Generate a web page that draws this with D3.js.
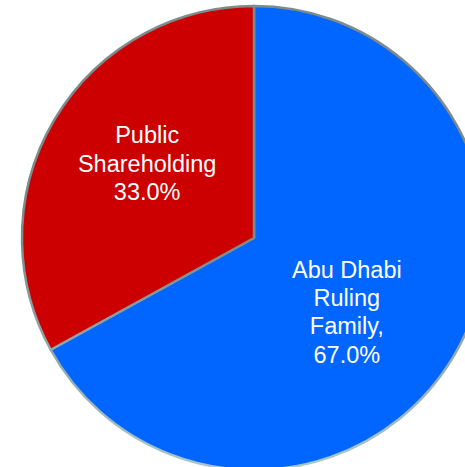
<!DOCTYPE html>
<html>
<head>
<meta charset="utf-8">
<script src="https://cdn.jsdelivr.net/npm/d3@7"></script>
<style>
  html, body { margin: 0; padding: 0; background: #fff; overflow: hidden; }
  svg { display: block; }
</style>
</head>
<body>
<svg id="pieChart"></svg>
<script>
// slice data
const owners = ["Abu Dhabi Ruling Family", "Public Shareholding"]
const shares = [67.0, 33.0]
const labelLines = [["Abu Dhabi", "Ruling", "Family,", "67.0%"], ["Public", "Shareholding", "33.0%"]]
const sliceColors = ["#0066ff", "#cc0000"]

var width = 465,
    height = 467,
    cx = 254,
    cy = 238,
    radius = 232

const svg = d3.select("#pieChart")
    .attr("width", width)
    .attr("height", height)

// edge line goes from grey at the top to pale cyan at the bottom
const grad = svg.append("defs").append("linearGradient")
    .attr("id", "edge")
    .attr("gradientUnits", "userSpaceOnUse")
    .attr("x1", 0).attr("y1", cy - radius)
    .attr("x2", 0).attr("y2", cy + radius)
grad.append("stop").attr("offset", "0%").attr("stop-color", "#7d8b8c")
grad.append("stop").attr("offset", "55%").attr("stop-color", "#b0d0d4")
grad.append("stop").attr("offset", "100%").attr("stop-color", "#c2e8ec")

const g = svg.append("g")
    .attr("transform", "translate(" + cx + "," + cy + ")")

const data = owners.map((o, i) => ({name: o, value: shares[i], lines: labelLines[i], color: sliceColors[i]}))

const pie = d3.pie()
    .sort(null)
    .value(d => d.value)

const arc = d3.arc().innerRadius(0).outerRadius(radius)
const labelArc = d3.arc().innerRadius(radius * 0.56).outerRadius(radius * 0.56)
// excel nudges its labels a bit away from the plain centroid
const nudge = [[-19, 8], [5, -8]]

const arcs = pie(data)

g.selectAll("path.slice")
    .data(arcs)
    .enter().append("path")
    .attr("class", "slice")
    .attr("d", arc)
    .attr("fill", d => d.data.color)
    .attr("stroke", "url(#edge)")
    .attr("stroke-width", 2.5)
    .attr("stroke-linejoin", "round")

const lineH = 28.4
const labels = g.selectAll("text.label")
    .data(arcs)
    .enter().append("text")
    .attr("class", "label")
    .attr("transform", (d, i) => {
        const c = labelArc.centroid(d)
        return "translate(" + (c[0] + nudge[i][0]) + "," + (c[1] + nudge[i][1]) + ")"
    })
    .attr("text-anchor", "middle")
    .attr("fill", "#fff")
    .style("font-family", "Liberation Sans, Arial, sans-serif")
    .style("font-size", "23.5px")

labels.each(function (d) {
    const n = d.data.lines.length
    const t = d3.select(this)
    d.data.lines.forEach((ln, k) => {
        t.append("tspan")
            .attr("x", 0)
            .attr("y", (k - (n - 1) / 2) * lineH + 8)
            .text(ln)
    })
})
</script>
</body>
</html>
